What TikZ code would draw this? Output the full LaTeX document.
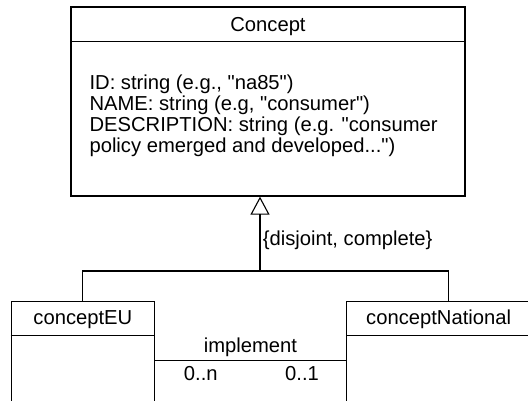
\documentclass[tikz,border=0pt]{standalone}
\usepackage{fontspec}
\setmainfont{Liberation Sans}
\usepackage{tikz}
\usetikzlibrary{positioning,arrows.meta}

\begin{document}
\begin{tikzpicture}[
  x=1pt, y=-1pt,
  font=\fontsize{20.2}{21}\selectfont,
  node distance=10pt,
  box/.style={draw=black, line width=1.3pt, inner sep=0pt},
  cls/.style={box, minimum width=143pt, minimum height=100pt},
  link/.style={draw=black, line width=1.1pt},
  gen/.style={link, -{Triangle[open, width=19pt, length=18pt, line width=1.1pt]}}
]
\clip (0,0) rectangle (528,401);

% ------------------------------------------------------------
% Top: Concept class
% ------------------------------------------------------------
\node[box, minimum width=394pt, minimum height=189pt] (concept) at (268,101.5) {};
\draw[box] ([yshift=-35pt]concept.north west) -- ([yshift=-35pt]concept.north east);
\node (conceptname) at ([yshift=-20pt]concept.north) {Concept};
\node[anchor=north west, align=left, inner sep=0pt] (conceptattr)
  at ([xshift=19pt, yshift=-68.5pt]concept.north west)
  {ID: string (e.g., \textquotedbl na85\textquotedbl)\\
   NAME: string (e.g, \textquotedbl consumer\textquotedbl)\\
   DESCRIPTION: string (e.g. \textquotedbl consumer\\
   policy emerged and developed...\textquotedbl)};

% ------------------------------------------------------------
% Bottom: the two subclasses
% ------------------------------------------------------------
\node[cls, below left=104pt and 113pt of concept.south] (eu) {};
\node[cls, minimum width=184pt, below right=104pt and 78pt of concept.south] (national) {};
\draw[box] ([yshift=-35pt]eu.north west) -- ([yshift=-35pt]eu.north east);
\draw[box] ([yshift=-35pt]national.north west) -- ([yshift=-35pt]national.north east);
\node (euname) at ([yshift=-19pt]eu.north) {conceptEU};
\node (nationalname) at ([yshift=-19pt]national.north) {conceptNational};

% generalization (subclasses -> Concept)
\coordinate (split) at (260,271);
\draw[gen] (split) -- node[right, pos=0.41, xshift=-1pt] (constraint) {\{disjoint, complete\}}
  (split |- concept.south);
\draw[link] (eu.north) |- (split) -| ([xshift=10pt]national.north);

% association between the subclasses
\draw[link] ([yshift=-9pt]eu.east) -- node[above] (assoc) {implement}
  node[pos=0.24, below, yshift=-2pt] (multeu) {0..n}
  node[pos=0.77, below, yshift=-2pt] (multnat) {0..1}
  ([yshift=-9pt]national.west);

\end{tikzpicture}
\end{document}
